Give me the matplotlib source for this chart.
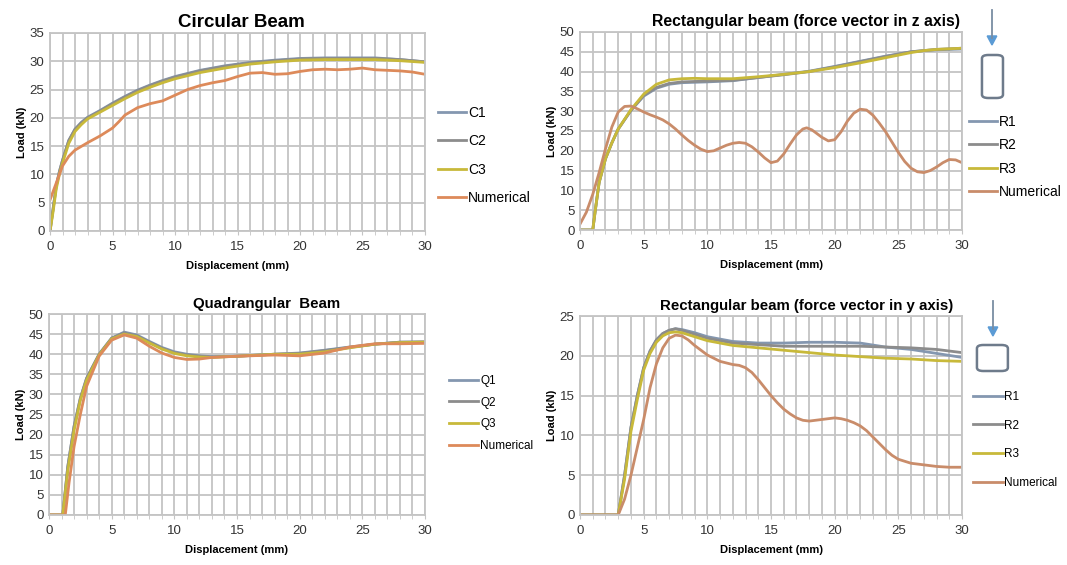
import matplotlib
matplotlib.use("Agg")
import matplotlib.pyplot as plt
from matplotlib.patches import FancyBboxPatch

plt.rcParams['font.family'] = ['Liberation Sans', 'DejaVu Sans']

# ---- Circular beam ----
circ_x = [0, 0.25, 0.5, 0.75, 1, 1.5, 2, 2.5, 3, 4, 5, 6, 7, 8, 9, 10, 12, 14, 16, 18, 20, 22, 24, 26, 28, 30]
c1 = [0, 4, 8, 10.5, 12.5, 16, 18, 19.2, 20.1, 21.3, 22.6, 23.8, 24.9, 25.8, 26.6, 27.3, 28.4, 29.2, 29.8, 30.2, 30.5, 30.6, 30.6, 30.6, 30.3, 29.9]
c2 = [0, 4, 8, 10.5, 12.5, 16, 18, 19.1, 20.0, 21.2, 22.5, 23.7, 24.8, 25.7, 26.5, 27.2, 28.3, 29.1, 29.7, 30.1, 30.4, 30.5, 30.5, 30.5, 30.3, 29.9]
c3 = [0, 3.5, 7.5, 10, 12, 15.5, 17.6, 18.8, 19.8, 21.0, 22.2, 23.4, 24.5, 25.4, 26.2, 26.9, 28.0, 28.8, 29.5, 29.9, 30.2, 30.3, 30.3, 30.3, 30.1, 29.8]
circ_num_x = [0, 0.5, 1, 1.5, 2, 3, 4, 5, 5.5, 6, 7, 8, 9, 10, 11, 12, 13, 14, 15, 16, 17, 18, 19, 20, 21, 22, 23, 24, 25, 26, 27, 28, 29, 30]
circ_num = [5.5, 8.5, 11.5, 13.2, 14.3, 15.6, 16.8, 18.2, 19.3, 20.5, 21.8, 22.5, 23.0, 24.0, 25.0, 25.7, 26.2, 26.6, 27.3, 27.9, 28.0, 27.7, 27.8, 28.2, 28.5, 28.6, 28.5, 28.6, 28.8, 28.5, 28.4, 28.3, 28.1, 27.7]

# ---- Rectangular beam, force in z ----
rz_x = [0, 1, 1.2, 1.5, 2, 2.5, 3, 4, 5, 6, 7, 8, 9, 10, 12, 14, 16, 18, 20, 22, 24, 26, 27, 28, 30]
rz1 = [0, 0, 5, 12, 18, 22, 25.5, 30.2, 33.8, 35.8, 36.8, 37.2, 37.3, 37.4, 37.7, 38.5, 39.3, 40.1, 41.3, 42.6, 43.9, 45.0, 45.3, 45.5, 45.7]
rz2 = [0, 0, 5, 12, 18, 22, 25.5, 30.2, 34.0, 36.0, 37.0, 37.4, 37.5, 37.6, 37.8, 38.5, 39.2, 40.0, 41.2, 42.5, 43.8, 45.0, 45.3, 45.6, 45.9]
rz3 = [0, 0, 5, 12, 18, 22, 25.5, 30.4, 34.3, 36.8, 37.9, 38.2, 38.3, 38.2, 38.2, 38.7, 39.3, 40.0, 41.0, 42.2, 43.5, 44.8, 45.3, 45.6, 45.9]
rz_num_x = [0, 0.5, 1, 1.5, 2, 2.5, 3, 3.5, 4, 4.5, 5, 5.5, 6, 6.5, 7, 7.5, 8, 8.5, 9, 9.5, 10,
            10.5, 11, 11.5, 12, 12.5, 13, 13.5, 14, 14.5, 15, 15.5, 16, 16.5, 17, 17.5, 17.8, 18.2, 18.5, 19,
            19.5, 20, 20.5, 21, 21.5, 22, 22.5, 23, 23.5, 24, 24.5, 25, 25.5, 26, 26.5, 27, 27.5, 28, 28.5, 29, 29.5, 30]
rz_num = [1.5, 4.5, 9, 14.5, 20.5, 26, 29.8, 31.2, 31.3, 30.6, 29.8, 29.1, 28.5, 27.8, 26.8, 25.5, 24.0, 22.6, 21.4, 20.4, 19.8,
          20.0, 20.7, 21.4, 21.9, 22.1, 21.9, 21.0, 19.7, 18.2, 17.0, 17.4, 19.2, 21.7, 24.0, 25.5, 25.8, 25.3, 24.6, 23.4,
          22.5, 22.8, 24.8, 27.5, 29.5, 30.5, 30.3, 29.0, 27.0, 24.8, 22.2, 19.6, 17.3, 15.6, 14.7, 14.5, 15.0, 15.9, 17.0, 17.8, 17.7, 17.0]

# ---- Quadrangular beam ----
q_x = [0, 1.1, 1.5, 2, 2.5, 3, 4, 5, 6, 7, 8, 9, 10, 11, 12, 13, 15, 18, 20, 22, 24, 26, 28, 30]
q1 = [0, 0, 12, 22, 29, 34, 40, 44, 45.5, 44.8, 43.2, 41.7, 40.6, 40.0, 39.6, 39.4, 39.5, 40.0, 40.3, 41.0, 41.8, 42.5, 43.0, 43.0]
q2 = [0, 0, 12, 22, 29, 34, 40, 44, 45.3, 44.6, 43.0, 41.5, 40.4, 39.8, 39.5, 39.3, 39.5, 40.0, 40.2, 40.9, 41.7, 42.5, 43.0, 43.1]
q3 = [0, 0, 11, 21, 28.5, 33.5, 39.8, 43.8, 45.0, 44.4, 42.8, 41.3, 40.2, 39.6, 39.3, 39.2, 39.5, 40.0, 40.0, 40.6, 41.6, 42.5, 42.9, 43.0]
q_num_x = [0, 1.3, 1.6, 2, 2.5, 3, 4, 5, 6, 7, 8, 9, 10, 11, 12, 13, 15, 18, 20, 22, 24, 26, 28, 30]
q_num = [0, 0, 8, 17, 25, 32, 39.5, 43.5, 44.8, 44.0, 42.0, 40.3, 39.2, 38.7, 38.8, 39.2, 39.5, 39.8, 39.6, 40.3, 41.8, 42.6, 42.6, 42.7]

# ---- Rectangular beam, force in y ----
ry_x = [0, 3, 3.5, 4, 4.5, 5, 5.5, 6, 6.5, 7, 7.5, 8, 9, 10, 12, 14, 16, 18, 20, 22, 24, 26, 28, 30]
ry1 = [0, 0, 5, 11, 15, 18.5, 20.6, 22.0, 22.8, 23.2, 23.4, 23.3, 22.9, 22.4, 21.8, 21.6, 21.6, 21.7, 21.7, 21.6, 21.1, 20.8, 20.3, 19.8]
ry2 = [0, 0, 5, 11, 15, 18.5, 20.6, 22.0, 22.8, 23.2, 23.4, 23.2, 22.7, 22.2, 21.6, 21.4, 21.2, 21.2, 21.2, 21.2, 21.1, 21.0, 20.8, 20.4]
ry3 = [0, 0, 4.5, 10.5, 14.5, 18.2, 20.3, 21.7, 22.5, 22.9, 23.0, 22.9, 22.4, 21.9, 21.3, 21.0, 20.7, 20.4, 20.1, 19.9, 19.7, 19.6, 19.4, 19.3]
ry_num_x = [0, 3, 3.5, 4, 4.5, 5, 5.5, 6, 6.5, 7, 7.5, 8, 8.5, 9, 9.5, 10, 11, 12, 12.5, 13, 13.5, 14, 14.5, 15, 15.5, 16, 16.5, 17, 17.5, 18,
            19, 20, 20.5, 21, 21.5, 22, 22.5, 23, 23.5, 24, 24.5, 25, 26, 27, 28, 29, 30]
ry_num = [0, 0, 2, 5, 8.5, 12, 16, 19, 21, 22.2, 22.6, 22.5, 22.0, 21.3, 20.7, 20.1, 19.3, 18.9, 18.8, 18.5, 17.9, 17.0, 16.0, 15.0, 14.1, 13.3, 12.7, 12.2, 11.9, 11.8,
          12.0, 12.2, 12.1, 11.9, 11.6, 11.2, 10.6, 9.8, 9.0, 8.2, 7.5, 7.0, 6.5, 6.3, 6.1, 6.0, 6.0]

col_1 = "#8497b0"
col_2 = "#8c8c8c"
col_3 = "#c8b93a"
col_num = "#dd8a5a"
col_num_rz = "#c98c6a"
grid_col = "#c4c4c4"


def setup(ax, title, ymax, ystep, tsize, tx):
    ax.set_xlim(0, 30)
    ax.set_ylim(0, ymax)
    ax.set_xticks(range(0, 31, 5))
    ax.set_xticks(range(0, 31, 1), minor=True)
    ax.set_yticks(range(0, ymax + 1, ystep))
    ax.grid(True, which="both", axis="x", color=grid_col, lw=1.3)
    ax.grid(True, which="major", axis="y", color=grid_col, lw=1.3)
    ax.set_axisbelow(True)
    for s in ax.spines.values():
        s.set_color(grid_col)
        s.set_linewidth(1.3)
    ax.tick_params(which="both", length=3, color=grid_col, labelsize=9.5, labelcolor="#333333", pad=4)
    ax.tick_params(axis="y", which="both", length=0)
    ax.set_title(title, fontsize=tsize, fontweight="bold", pad=4, x=tx)
    ax.set_xlabel("Displacement (mm)", fontsize=8, fontweight="bold", labelpad=6)
    ax.set_ylabel("Load (kN)", fontsize=8, fontweight="bold", labelpad=2)


fig = plt.figure(figsize=(10.67, 5.65), dpi=100)

ax1 = fig.add_axes([0.0469, 0.5912, 0.3514, 0.3504])
ax2 = fig.add_axes([0.5436, 0.5929, 0.3580, 0.3505])
ax3 = fig.add_axes([0.0459, 0.0885, 0.3524, 0.3557])
ax4 = fig.add_axes([0.5436, 0.0885, 0.3580, 0.3522])

lw = 2.0
ax1.plot(circ_x, c1, color=col_1, lw=lw, label="C1")
ax1.plot(circ_x, c2, color=col_2, lw=lw, label="C2")
ax1.plot(circ_x, c3, color=col_3, lw=lw, label="C3")
ax1.plot(circ_num_x, circ_num, color=col_num, lw=lw, label="Numerical")
setup(ax1, "Circular Beam", 35, 5, 13.5, 0.51)

ax2.plot(rz_x, rz1, color=col_1, lw=lw, label="R1")
ax2.plot(rz_x, rz2, color=col_2, lw=lw, label="R2")
ax2.plot(rz_x, rz3, color=col_3, lw=lw, label="R3")
ax2.plot(rz_num_x, rz_num, color=col_num_rz, lw=lw, label="Numerical")
setup(ax2, "Rectangular beam (force vector in z axis)", 50, 5, 11.3, 0.592)

ax3.plot(q_x, q1, color=col_1, lw=lw, label="Q1")
ax3.plot(q_x, q2, color=col_2, lw=lw, label="Q2")
ax3.plot(q_x, q3, color=col_3, lw=lw, label="Q3")
ax3.plot(q_num_x, q_num, color=col_num, lw=lw, label="Numerical")
setup(ax3, "Quadrangular  Beam", 50, 5, 10.8, 0.58)

ax4.plot(ry_x, ry1, color=col_1, lw=lw, label="R1")
ax4.plot(ry_x, ry2, color=col_2, lw=lw, label="R2")
ax4.plot(ry_x, ry3, color=col_3, lw=lw, label="R3")
ax4.plot(ry_num_x, ry_num, color=col_num_rz, lw=lw, label="Numerical")
setup(ax4, "Rectangular beam (force vector in y axis)", 25, 5, 10.8, 0.592)

# legends on the right of each plot
leg_kw = dict(frameon=False, handletextpad=0.15, borderaxespad=0, borderpad=0, loc="center left")
ax1.legend(bbox_to_anchor=(1.035, 0.381), fontsize=10, labelspacing=1.04, handlelength=2.0, **leg_kw)
ax2.legend(bbox_to_anchor=(1.018, 0.369), fontsize=10, labelspacing=0.66, handlelength=2.0, **leg_kw)
ax3.legend(bbox_to_anchor=(1.065, 0.505), fontsize=8.5, labelspacing=0.84, handlelength=2.45, **leg_kw)
ax4.legend(bbox_to_anchor=(1.029, 0.377), fontsize=8.5, labelspacing=1.43, handlelength=2.5, **leg_kw)

# beam cross-section icons with load arrows
def icon(x, y_top, y_tip, rx, ry, rw, rh):
    fig.add_artist(plt.Line2D([x, x], [y_top, y_tip + 0.012], transform=fig.transFigure,
                              color="#7a8da3", lw=1.3))
    fig.patches.append(plt.Polygon([[x - 0.0045, y_tip + 0.016], [x + 0.0045, y_tip + 0.016], [x, y_tip]],
                                   closed=True, transform=fig.transFigure, color="#5b9bd5"))
    fig.patches.append(FancyBboxPatch((rx, ry), rw, rh, boxstyle="round,pad=0,rounding_size=0.006",
                                      transform=fig.transFigure, fc="white", ec="#6e7b8b", lw=1.8))

icon(0.9297, 1 - 10 / 565, 1 - 45 / 565, 0.9203, 1 - 98 / 565, 0.0197, 43 / 565)
icon(0.9306, 1 - 301 / 565, 1 - 336 / 565, 0.9156, 1 - 371 / 565, 0.0290, 26 / 565)

fig.savefig("out.png", dpi=100)
